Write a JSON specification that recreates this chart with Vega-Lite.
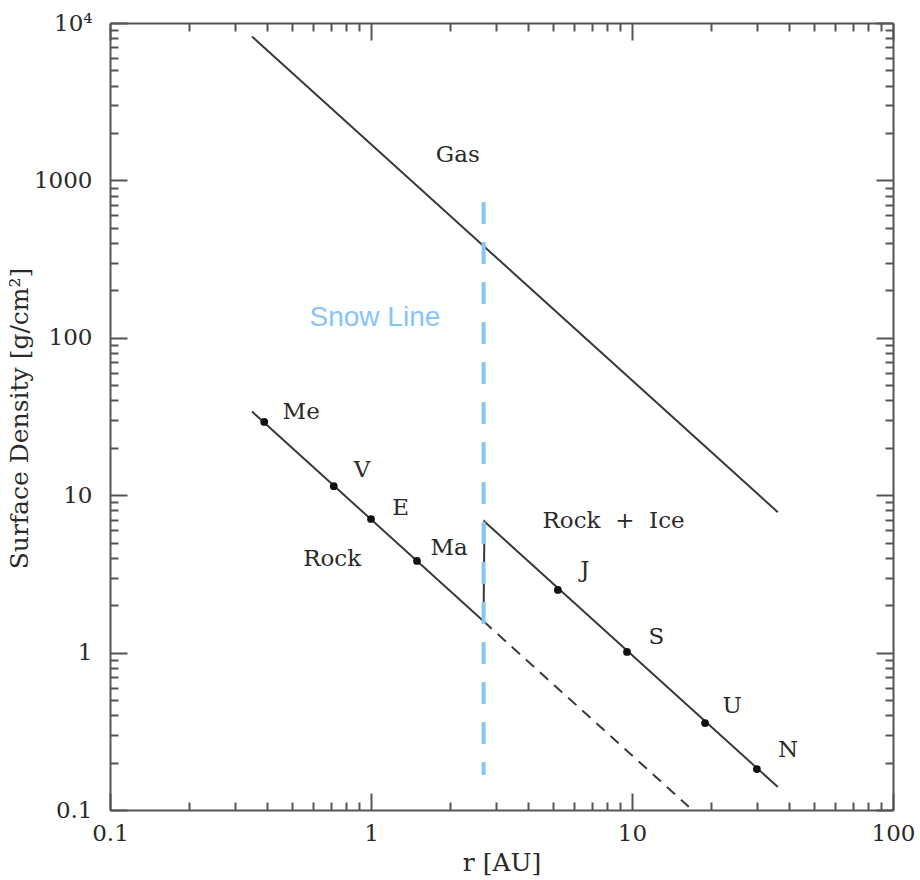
{
  "$schema": "https://vega.github.io/schema/vega-lite/v6.json",
  "width": 783,
  "height": 787,
  "autosize": "none",
  "padding": {"left": 110, "top": 23, "right": 27, "bottom": 70},
  "background": "white",
  "config": {"view": {"stroke": null}},
  "resolve": {"axis": {"x": "independent", "y": "independent"}},
  "layer": [
    {
      "data": {"values": [{"r": 0.35, "sigma": 8200}, {"r": 36.2, "sigma": 7.8}]},
      "mark": {"type": "line", "color": "#3a3a3a", "strokeWidth": 2},
      "encoding": {
        "x": {"field": "r", "type": "quantitative", "scale": {"type": "log", "domain": [0.1, 100], "nice": false},
          "axis": {"orient": "bottom", "values": [0.1, 1, 10, 100], "tickSize": -17, "tickWidth": 2, "tickColor": "#555", "domainColor": "#555", "domainWidth": 2, "grid": false,
            "labelFont": "DejaVu Serif", "labelFontSize": 23, "labelColor": "#2a2a2a", "labelPadding": 29, "labelFlush": false, "labelOverlap": false, "labelBaseline": "top",
            "labelExpr": "datum.value < 1 ? '0.1' : format(datum.value, 'd')",
            "title": "r [AU]", "titleFont": "DejaVu Serif", "titleFontSize": 25, "titleFontWeight": "normal", "titleColor": "#2a2a2a", "titleY": 40, "titleBaseline": "top"}},
        "y": {"field": "sigma", "type": "quantitative", "scale": {"type": "log", "domain": [0.1, 10000], "nice": false},
          "axis": {"orient": "left", "values": [0.1, 1, 10, 100, 1000, 10000], "tickSize": -17, "tickWidth": 2, "tickColor": "#555", "domainColor": "#555", "domainWidth": 2, "grid": false,
            "labelFont": "DejaVu Serif", "labelFontSize": 23, "labelColor": "#2a2a2a", "labelPadding": 35, "labelFlush": false, "labelOverlap": false, "labelAlign": "right", "labelBaseline": "middle",
            "labelExpr": "datum.value >= 10000 ? '10⁴' : (datum.value < 1 ? '0.1' : format(datum.value, 'd'))",
            "title": "Surface Density [g/cm²]", "titleFont": "DejaVu Serif", "titleFontSize": 25, "titleFontWeight": "normal", "titleColor": "#2a2a2a", "titleAngle": -90, "titleX": -91, "titleY": 395, "titleBaseline": "middle", "titleAlign": "center"}}
      }
    },
    {
      "data": {"values": [{"r": 0.35, "sigma": 34}, {"r": 2.7, "sigma": 1.58}]},
      "mark": {"type": "line", "color": "#3a3a3a", "strokeWidth": 2},
      "encoding": {
        "x": {"field": "r", "type": "quantitative", "scale": {"type": "log", "domain": [0.1, 100], "nice": false},
          "axis": {"orient": "bottom", "values": [0.2, 0.3, 0.4, 0.5, 0.6, 0.7, 0.8, 0.9, 2, 3, 4, 5, 6, 7, 8, 9, 20, 30, 40, 50, 60, 70, 80, 90], "tickSize": -8, "tickWidth": 2, "tickColor": "#555", "domain": false, "labels": false, "grid": false, "title": null}},
        "y": {"field": "sigma", "type": "quantitative", "scale": {"type": "log", "domain": [0.1, 10000], "nice": false},
          "axis": {"orient": "left", "values": [0.2, 0.3, 0.4, 0.5, 0.6, 0.7, 0.8, 0.9, 2, 3, 4, 5, 6, 7, 8, 9, 20, 30, 40, 50, 60, 70, 80, 90, 200, 300, 400, 500, 600, 700, 800, 900, 2000, 3000, 4000, 5000, 6000, 7000, 8000, 9000], "tickSize": -8, "tickWidth": 2, "tickColor": "#555", "domain": false, "labels": false, "grid": false, "title": null}}
      }
    },
    {
      "data": {"values": [{"r": 2.7, "sigma": 1.58, "i": 0}, {"r": 2.72, "sigma": 6.8, "i": 1}, {"r": 36.2, "sigma": 0.14, "i": 2}]},
      "mark": {"type": "line", "color": "#3a3a3a", "strokeWidth": 2},
      "encoding": {
        "order": {"field": "i", "type": "quantitative"},
        "x": {"field": "r", "type": "quantitative", "scale": {"type": "log", "domain": [0.1, 100], "nice": false},
          "axis": {"orient": "top", "values": [0.1, 1, 10, 100], "tickSize": -17, "tickWidth": 2, "tickColor": "#555", "domainColor": "#555", "domainWidth": 2, "labels": false, "grid": false, "title": null}},
        "y": {"field": "sigma", "type": "quantitative", "scale": {"type": "log", "domain": [0.1, 10000], "nice": false},
          "axis": {"orient": "right", "values": [0.1, 1, 10, 100, 1000, 10000], "tickSize": -17, "tickWidth": 2, "tickColor": "#555", "domainColor": "#555", "domainWidth": 2, "labels": false, "grid": false, "title": null}}
      }
    },
    {
      "data": {"values": [{"r": 2.7, "sigma": 1.58}, {"r": 16.5, "sigma": 0.105}]},
      "mark": {"type": "line", "color": "#3a3a3a", "strokeWidth": 2, "strokeDash": [11, 8]},
      "encoding": {
        "x": {"field": "r", "type": "quantitative", "scale": {"type": "log", "domain": [0.1, 100], "nice": false},
          "axis": {"orient": "top", "values": [0.2, 0.3, 0.4, 0.5, 0.6, 0.7, 0.8, 0.9, 2, 3, 4, 5, 6, 7, 8, 9, 20, 30, 40, 50, 60, 70, 80, 90], "tickSize": -8, "tickWidth": 2, "tickColor": "#555", "domain": false, "labels": false, "grid": false, "title": null}},
        "y": {"field": "sigma", "type": "quantitative", "scale": {"type": "log", "domain": [0.1, 10000], "nice": false},
          "axis": {"orient": "right", "values": [0.2, 0.3, 0.4, 0.5, 0.6, 0.7, 0.8, 0.9, 2, 3, 4, 5, 6, 7, 8, 9, 20, 30, 40, 50, 60, 70, 80, 90, 200, 300, 400, 500, 600, 700, 800, 900, 2000, 3000, 4000, 5000, 6000, 7000, 8000, 9000], "tickSize": -8, "tickWidth": 2, "tickColor": "#555", "domain": false, "labels": false, "grid": false, "title": null}}
      }
    },
    {
      "data": {"values": [{"r": 2.7, "sigma": 730}, {"r": 2.7, "sigma": 0.167}]},
      "mark": {"type": "line", "color": "#86c5fa", "strokeWidth": 4, "strokeDash": [22, 18]},
      "encoding": {
        "x": {"field": "r", "type": "quantitative", "scale": {"type": "log", "domain": [0.1, 100], "nice": false}, "axis": null},
        "y": {"field": "sigma", "type": "quantitative", "scale": {"type": "log", "domain": [0.1, 10000], "nice": false}, "axis": null}
      }
    },
    {
      "data": {"values": [
        {"planet": "Me", "r": 0.39, "sigma": 29.2},
        {"planet": "V", "r": 0.72, "sigma": 11.4},
        {"planet": "E", "r": 1.0, "sigma": 7.06},
        {"planet": "Ma", "r": 1.5, "sigma": 3.82},
        {"planet": "J", "r": 5.2, "sigma": 2.5},
        {"planet": "S", "r": 9.57, "sigma": 1.01},
        {"planet": "U", "r": 19.05, "sigma": 0.357},
        {"planet": "N", "r": 30.1, "sigma": 0.182}
      ]},
      "mark": {"type": "point", "filled": true, "color": "#111", "size": 60, "opacity": 1},
      "encoding": {
        "x": {"field": "r", "type": "quantitative", "scale": {"type": "log", "domain": [0.1, 100], "nice": false}, "axis": null},
        "y": {"field": "sigma", "type": "quantitative", "scale": {"type": "log", "domain": [0.1, 10000], "nice": false}, "axis": null}
      }
    },
    {
      "data": {"values": [
        {"label": "Me", "r": 0.54, "sigma": 33.8},
        {"label": "V", "r": 0.925, "sigma": 14.5},
        {"label": "E", "r": 1.30, "sigma": 8.3},
        {"label": "Ma", "r": 1.99, "sigma": 4.62},
        {"label": "J", "r": 6.6, "sigma": 3.35},
        {"label": "S", "r": 12.4, "sigma": 1.26},
        {"label": "U", "r": 24.2, "sigma": 0.458},
        {"label": "N", "r": 39.6, "sigma": 0.24},
        {"label": "Gas", "r": 2.15, "sigma": 1450},
        {"label": "Rock", "r": 0.71, "sigma": 3.93},
        {"label": "Rock\u00a0\u00a0+\u00a0\u00a0Ice", "r": 8.5, "sigma": 6.86}
      ]},
      "mark": {"type": "text", "font": "DejaVu Serif", "fontSize": 23, "color": "#2a2a2a", "align": "center", "baseline": "middle"},
      "encoding": {
        "text": {"field": "label", "type": "nominal"},
        "x": {"field": "r", "type": "quantitative", "scale": {"type": "log", "domain": [0.1, 100], "nice": false}, "axis": null},
        "y": {"field": "sigma", "type": "quantitative", "scale": {"type": "log", "domain": [0.1, 10000], "nice": false}, "axis": null}
      }
    },
    {
      "data": {"values": [{"label": "Snow Line", "r": 1.035, "sigma": 134}]},
      "mark": {"type": "text", "font": "Liberation Sans", "fontSize": 28, "color": "#86c5fa", "align": "center", "baseline": "middle"},
      "encoding": {
        "text": {"field": "label", "type": "nominal"},
        "x": {"field": "r", "type": "quantitative", "scale": {"type": "log", "domain": [0.1, 100], "nice": false}, "axis": null},
        "y": {"field": "sigma", "type": "quantitative", "scale": {"type": "log", "domain": [0.1, 10000], "nice": false}, "axis": null}
      }
    }
  ]
}
